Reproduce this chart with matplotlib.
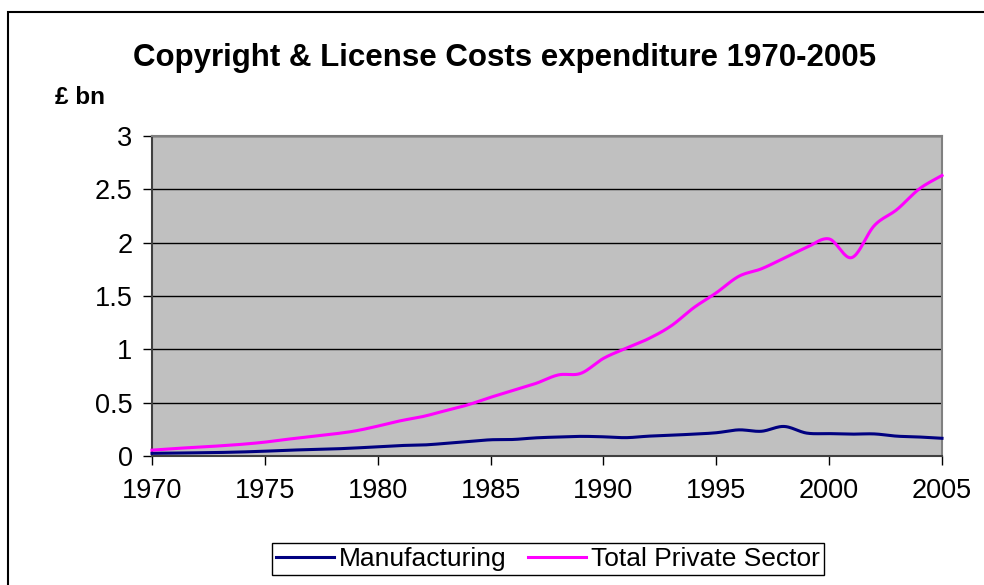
import numpy as np
import matplotlib
matplotlib.use('Agg')
import matplotlib.pyplot as plt
from matplotlib.patches import Rectangle

plt.rcParams['font.family'] = ['Liberation Sans', 'DejaVu Sans']

years = np.arange(1970, 2006)
manufacturing = [0.025, 0.028, 0.030, 0.033, 0.038, 0.045, 0.054, 0.060, 0.066, 0.075,
                 0.087, 0.098, 0.103, 0.118, 0.135, 0.152, 0.155, 0.170, 0.178, 0.184,
                 0.180, 0.172, 0.186, 0.195, 0.205, 0.218, 0.245, 0.232, 0.277, 0.215,
                 0.210, 0.205, 0.207, 0.186, 0.178, 0.166]
total_private = [0.055, 0.070, 0.082, 0.095, 0.110, 0.130, 0.157, 0.180, 0.205, 0.235,
                 0.280, 0.330, 0.370, 0.425, 0.480, 0.550, 0.615, 0.680, 0.760, 0.775,
                 0.915, 1.010, 1.100, 1.220, 1.390, 1.530, 1.685, 1.755, 1.855, 1.955,
                 2.035, 1.860, 2.160, 2.310, 2.505, 2.630]


def smooth(x, y, n=20):
    # excel-like smoothed line: catmull-rom bezier through the points
    x = np.asarray(x, float)
    y = np.asarray(y, float)
    px = np.concatenate([[x[0]], x, [x[-1]]])
    py = np.concatenate([[y[0]], y, [y[-1]]])
    t = np.linspace(0, 1, n, endpoint=False)[:, None]
    xs, ys = [], []
    for i in range(1, len(px) - 2):
        p0 = np.array([px[i], py[i]])
        p3 = np.array([px[i + 1], py[i + 1]])
        c1 = p0 + (np.array([px[i + 1], py[i + 1]]) - np.array([px[i - 1], py[i - 1]])) / 6
        c2 = p3 - (np.array([px[i + 2], py[i + 2]]) - np.array([px[i], py[i]])) / 6
        b = ((1 - t) ** 3) * p0 + 3 * ((1 - t) ** 2) * t * c1 + 3 * (1 - t) * t ** 2 * c2 + t ** 3 * p3
        xs.append(b[:, 0])
        ys.append(b[:, 1])
    xs.append([x[-1]])
    ys.append([y[-1]])
    return np.concatenate(xs), np.concatenate(ys)


fig = plt.figure(figsize=(9.84, 5.85), dpi=100)
ax = fig.add_axes([152 / 984, 1 - 456 / 585, 790 / 984, 320 / 585])
ax.set_facecolor('#C0C0C0')

for yv in np.arange(0.5, 3.01, 0.5):
    ax.axhline(yv, color='black', lw=1, zorder=1)

mx, my = smooth(years, manufacturing)
tx, ty = smooth(years, total_private)
ax.plot(mx, my, color='#000080', lw=2.2, label='Manufacturing', zorder=3, clip_on=False)
ax.plot(tx, ty, color='#FF00FF', lw=2.2, label='Total Private Sector', zorder=3, clip_on=False)

ax.set_xlim(1970, 2005)
ax.set_ylim(0, 3)
ax.set_xticks(np.arange(1970, 2006, 5))
ax.set_yticks(np.arange(0, 3.01, 0.5))
ax.set_yticklabels(['0', '0.5', '1', '1.5', '2', '2.5', '3'])
ax.tick_params(axis='both', direction='out', length=6.5, width=1, labelsize=19.5, colors='black')
ax.tick_params(axis='y', pad=7.5)
ax.tick_params(axis='x', pad=9.5)

for side in ['top', 'right']:
    ax.spines[side].set_color('#808080')
    ax.spines[side].set_linewidth(1.5)
for side in ['left', 'bottom']:
    ax.spines[side].set_color('#404040')
    ax.spines[side].set_linewidth(1.5)

fig.text(505 / 984, 1 - 66 / 585, 'Copyright & License Costs expenditure 1970-2005',
         ha='center', va='baseline', fontsize=22.5, fontweight='bold')
fig.text(55 / 984, 1 - 104 / 585, '£ bn', ha='left', va='baseline', fontsize=17.5, fontweight='bold')

fig.legend(loc='center', bbox_to_anchor=(548 / 984, 1 - 559 / 585), ncol=2, fontsize=19,
           frameon=True, fancybox=False, edgecolor='black', framealpha=1,
           handlelength=2.2, handletextpad=0.2, columnspacing=0.8, borderpad=0.15,
           borderaxespad=0)

fig.patches.append(Rectangle((8 / 984, -0.1), 1.2, 1.1 - 12 / 585, transform=fig.transFigure,
                             fill=False, edgecolor='black', lw=1.5))

fig.savefig('out.png', dpi=100)
